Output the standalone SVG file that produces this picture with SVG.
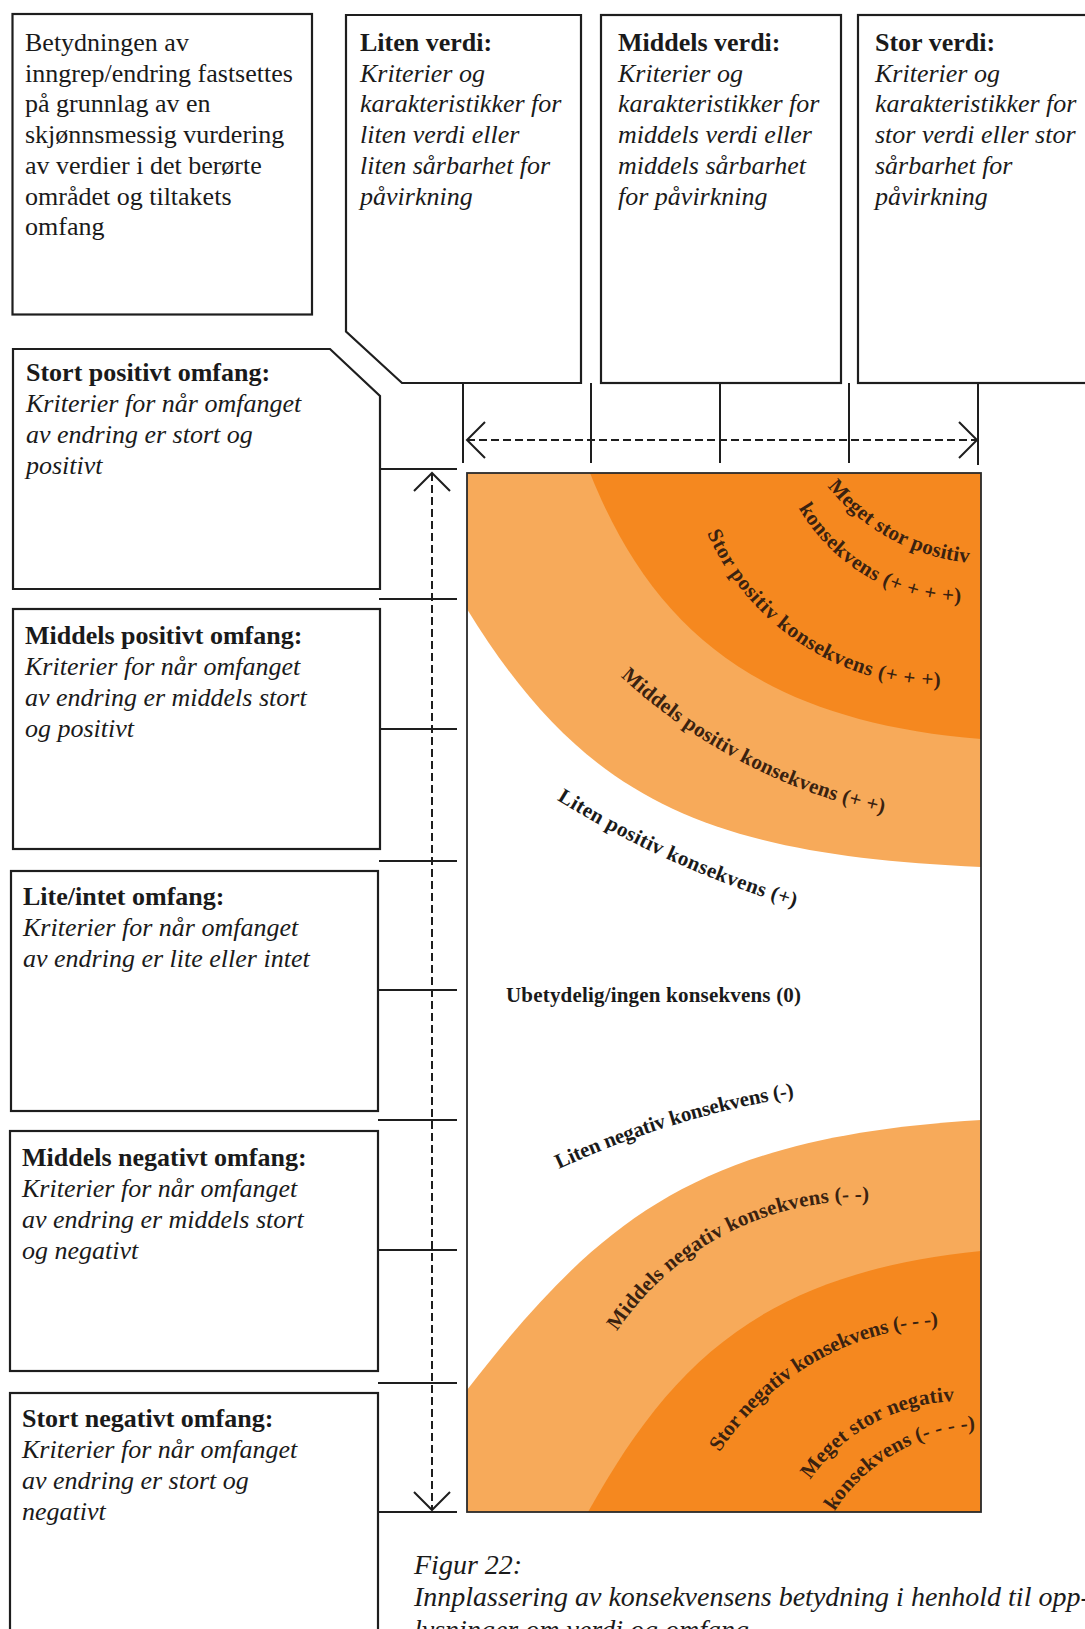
<svg xmlns="http://www.w3.org/2000/svg" width="1085" height="1629" viewBox="0 0 1085 1629">
<style>
.box{fill:#fff;stroke:#1e1e1e;stroke-width:2.2}
.t{font-family:"Liberation Serif","Times New Roman",serif;font-size:26px;fill:#1a1a1a}
.b{font-weight:bold}
.i{font-style:italic}
.lbl{font-family:"Liberation Serif","Times New Roman",serif;font-size:21px;font-weight:bold;fill:#3a2210}
.lblk{fill:#1a1a1a}
.ln{stroke:#1e1e1e;stroke-width:2;fill:none}
.dash{stroke-dasharray:8 4}
.cap{font-family:"Liberation Serif","Times New Roman",serif;font-size:28px;font-style:italic;fill:#1a1a1a}
</style>
<defs>
<marker id="chev" markerUnits="userSpaceOnUse" markerWidth="30" markerHeight="44" refX="21" refY="22" orient="auto-start-reverse" viewBox="0 0 30 44">
<path d="M3,4 L21,22 L3,40" fill="none" stroke="#1e1e1e" stroke-width="2" stroke-dasharray="none"/>
</marker>
<path id="p1" d="M827.5,486.3 A205,205 0 0 0 970.3,562.7"/>
<path id="p2" d="M798.7,508.1 A189,189 0 0 0 962.8,602.2"/>
<path id="p3" d="M707.1,533.1 A258,258 0 0 0 942.6,686.5"/>
<path id="p4" d="M620.6,676.4 A562,562 0 0 0 885.6,813.7"/>
<path id="p5" d="M556.7,799.7 A1006,1006 0 0 0 797.1,907.7"/>
<path id="n1" d="M558.9,1169.1 A894,894 0 0 1 796.7,1096.5"/>
<path id="n2" d="M617,1331.3 A294,294 0 0 1 871.6,1201.1"/>
<path id="n3" d="M719.7,1452.3 A277,277 0 0 1 940.4,1325.6"/>
<path id="n4" d="M810.2,1479.9 A183,183 0 0 1 955.9,1401.2"/>
<path id="n5" d="M834.5,1511.3 A177,177 0 0 1 977.9,1429.6"/>
</defs>
<rect width="1085" height="1629" fill="#fff"/>

<g id="matrix">
<rect x="467" y="473" width="514" height="1039" fill="#fff"/>
<path d="M467,473 L981,473 L981,867 C701,855 582,796 467,609 Z" fill="#F7AA5A"/>
<path d="M590,473 L981,473 L981,739 C761,721 653,631 590,473 Z" fill="#F5881F"/>
<path d="M467,1512 L467,1390 C601.6,1216 701,1136.8 981,1120 L981,1512 Z" fill="#F7AA5A"/>
<path d="M588,1512 C670.8,1363.6 761,1273 981,1251 L981,1512 Z" fill="#F5881F"/>
<rect x="467" y="473" width="514" height="1039" fill="none" stroke="#2a2a2a" stroke-width="1.8"/>
<text class="lbl"><textPath href="#p1" textLength="165">Meget stor positiv</textPath></text>
<text class="lbl"><textPath href="#p2" textLength="196">konsekvens (+ + + +)</textPath></text>
<text class="lbl"><textPath href="#p3" textLength="295">Stor positiv konsekvens (+ + +)</textPath></text>
<text class="lbl"><textPath href="#p4" textLength="300">Middels positiv konsekvens (+ +)</textPath></text>
<text class="lbl lblk"><textPath href="#p5" textLength="262">Liten positiv konsekvens (+)</textPath></text>
<text class="lbl lblk" x="506" y="1002" textLength="295">Ubetydelig/ingen konsekvens (0)</text>
<text class="lbl lblk"><textPath href="#n1" textLength="247">Liten negativ konsekvens (-)</textPath></text>
<text class="lbl"><textPath href="#n2" textLength="296">Middels negativ konsekvens (- -)</textPath></text>
<text class="lbl"><textPath href="#n3" textLength="262">Stor negativ konsekvens (- - -)</textPath></text>
<text class="lbl"><textPath href="#n4" textLength="170">Meget stor negativ</textPath></text>
<text class="lbl"><textPath href="#n5" textLength="169">konsekvens (- - - -)</textPath></text>
</g>

<g id="node-intro">
<rect class="box" x="12.5" y="14" width="299.5" height="300.5"/>
<text class="t"><tspan x="25" y="51">Betydningen av</tspan><tspan x="25" y="81.7">inngrep/endring fastsettes</tspan><tspan x="25" y="112.4">på grunnlag av en</tspan><tspan x="25" y="143.1">skjønnsmessig vurdering</tspan><tspan x="25" y="173.8">av verdier i det berørte</tspan><tspan x="25" y="204.5">området og tiltakets</tspan><tspan x="25" y="235.2">omfang</tspan></text>
</g>

<g id="node-liten-verdi">
<path class="box" d="M346,15 L581,15 L581,383 L402,383 L346,331.5 Z"/>
<text class="t"><tspan class="b" x="360" y="51">Liten verdi:</tspan><tspan class="i" x="360" y="81.7">Kriterier og</tspan><tspan class="i" x="360" y="112.4">karakteristikker for</tspan><tspan class="i" x="360" y="143.1">liten verdi eller</tspan><tspan class="i" x="360" y="173.8">liten sårbarhet for</tspan><tspan class="i" x="360" y="204.5">påvirkning</tspan></text>
</g>

<g id="node-middels-verdi">
<rect class="box" x="601" y="15" width="240" height="368"/>
<text class="t"><tspan class="b" x="618" y="51">Middels verdi:</tspan><tspan class="i" x="618" y="81.7">Kriterier og</tspan><tspan class="i" x="618" y="112.4">karakteristikker for</tspan><tspan class="i" x="618" y="143.1">middels verdi eller</tspan><tspan class="i" x="618" y="173.8">middels sårbarhet</tspan><tspan class="i" x="618" y="204.5">for påvirkning</tspan></text>
</g>

<g id="node-stor-verdi">
<rect class="box" x="858" y="15" width="240" height="368"/>
<text class="t"><tspan class="b" x="875" y="51">Stor verdi:</tspan><tspan class="i" x="875" y="81.7">Kriterier og</tspan><tspan class="i" x="875" y="112.4">karakteristikker for</tspan><tspan class="i" x="875" y="143.1">stor verdi eller stor</tspan><tspan class="i" x="875" y="173.8">sårbarhet for</tspan><tspan class="i" x="875" y="204.5">påvirkning</tspan></text>
</g>

<g id="node-stort-positivt">
<path class="box" d="M13,349 L330,349 L380,396 L380,589 L13,589 Z"/>
<text class="t"><tspan class="b" x="26" y="381">Stort positivt omfang:</tspan><tspan class="i" x="26" y="412">Kriterier for når omfanget</tspan><tspan class="i" x="26" y="443">av endring er stort og</tspan><tspan class="i" x="26" y="474">positivt</tspan></text>
</g>

<g id="node-middels-positivt">
<rect class="box" x="13" y="609" width="367" height="240"/>
<text class="t"><tspan class="b" x="25" y="644">Middels positivt omfang:</tspan><tspan class="i" x="25" y="675">Kriterier for når omfanget</tspan><tspan class="i" x="25" y="706">av endring er middels stort</tspan><tspan class="i" x="25" y="737">og positivt</tspan></text>
</g>

<g id="node-lite-intet">
<rect class="box" x="11" y="871" width="367" height="240"/>
<text class="t"><tspan class="b" x="23" y="905">Lite/intet omfang:</tspan><tspan class="i" x="23" y="936">Kriterier for når omfanget</tspan><tspan class="i" x="23" y="967">av endring er lite eller intet</tspan></text>
</g>

<g id="node-middels-negativt">
<rect class="box" x="10" y="1131" width="368" height="240"/>
<text class="t"><tspan class="b" x="22" y="1166">Middels negativt omfang:</tspan><tspan class="i" x="22" y="1197">Kriterier for når omfanget</tspan><tspan class="i" x="22" y="1228">av endring er middels stort</tspan><tspan class="i" x="22" y="1259">og negativt</tspan></text>
</g>

<g id="node-stort-negativt">
<rect class="box" x="10" y="1393" width="368" height="260"/>
<text class="t"><tspan class="b" x="22" y="1427">Stort negativt omfang:</tspan><tspan class="i" x="22" y="1458">Kriterier for når omfanget</tspan><tspan class="i" x="22" y="1489">av endring er stort og</tspan><tspan class="i" x="22" y="1520">negativt</tspan></text>
</g>

<g id="connectors">
<path class="ln" d="M463,383 V463 M591,383 V463 M720,383 V463 M849,383 V463 M978,383 V465"/>
<path class="ln" d="M380,469 H457 M379,599 H457 M380,729 H457 M379,861 H457 M378,990 H457 M378,1120 H457 M378,1250 H457 M378,1383 H457 M378,1512 H457"/>
<line class="ln dash" x1="467" y1="440" x2="977" y2="440" marker-start="url(#chev)" marker-end="url(#chev)"/>
<line class="ln dash" x1="432" y1="473" x2="432" y2="1510" marker-start="url(#chev)" marker-end="url(#chev)"/>
</g>

<g id="caption">
<text class="cap" x="414" y="1574">Figur 22:</text>
<text class="cap" x="414" y="1606">Innplassering av konsekvensens betydning i henhold til opp-</text>
<text class="cap" x="414" y="1639">lysninger om verdi og omfang</text>
</g>
</svg>
